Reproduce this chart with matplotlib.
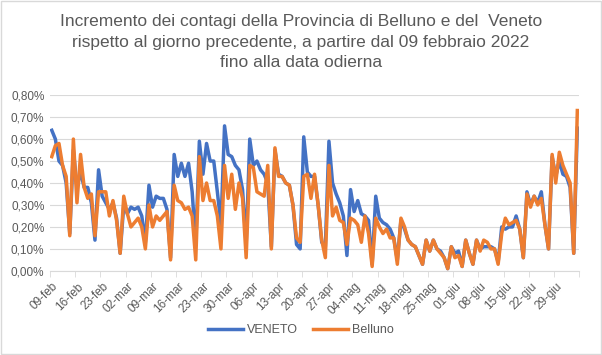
import matplotlib.pyplot as plt
import matplotlib.ticker as mticker
from matplotlib.patches import Rectangle
import numpy as np

plt.rcParams['font.family'] = ['Liberation Sans', 'DejaVu Sans']

# daily increment (%) from 09 feb 2022 to 05 jul 2022
veneto = [
    0.64, 0.60, 0.50, 0.48, 0.40, 0.17, 0.55, 0.38, 0.45, 0.38,
    0.38, 0.31, 0.14, 0.46, 0.34, 0.31, 0.28, 0.31, 0.24, 0.08,
    0.30, 0.26, 0.29, 0.28, 0.29, 0.25, 0.13, 0.39, 0.29, 0.34,
    0.33, 0.33, 0.28, 0.06, 0.53, 0.43, 0.49, 0.43, 0.49, 0.36,
    0.12, 0.59, 0.44, 0.58, 0.50, 0.50, 0.36, 0.21, 0.66, 0.53,
    0.52, 0.48, 0.46, 0.37, 0.12, 0.60, 0.48, 0.50, 0.46, 0.44,
    0.40, 0.11, 0.55, 0.44, 0.43, 0.40, 0.39, 0.30, 0.12, 0.10,
    0.61, 0.45, 0.43, 0.43, 0.30, 0.13, 0.11, 0.59, 0.40, 0.35,
    0.31, 0.25, 0.07, 0.37, 0.27, 0.32, 0.26, 0.25, 0.23, 0.03,
    0.34, 0.24, 0.22, 0.21, 0.19, 0.15, 0.05, 0.23, 0.19, 0.14,
    0.12, 0.11, 0.07, 0.03, 0.14, 0.09, 0.14, 0.10, 0.09, 0.06,
    0.01, 0.11, 0.08, 0.09, 0.02, 0.14, 0.08, 0.03, 0.14, 0.10,
    0.11, 0.11, 0.11, 0.10, 0.04, 0.20, 0.19, 0.20, 0.20, 0.25,
    0.19, 0.06, 0.36, 0.30, 0.34, 0.31, 0.36, 0.21, 0.10, 0.52,
    0.43, 0.50, 0.44, 0.43, 0.38, 0.08, 0.65]

belluno = [
    0.52, 0.57, 0.58, 0.48, 0.43, 0.16, 0.60, 0.31, 0.53, 0.38,
    0.33, 0.35, 0.16, 0.36, 0.36, 0.36, 0.25, 0.32, 0.23, 0.08,
    0.34, 0.26, 0.20, 0.22, 0.24, 0.20, 0.10, 0.30, 0.20, 0.25,
    0.23, 0.25, 0.27, 0.05, 0.39, 0.32, 0.31, 0.28, 0.29, 0.25,
    0.05, 0.52, 0.32, 0.40, 0.32, 0.32, 0.25, 0.10, 0.48, 0.33,
    0.44, 0.28, 0.40, 0.33, 0.06, 0.48, 0.47, 0.36, 0.35, 0.34,
    0.48, 0.10, 0.56, 0.43, 0.43, 0.40, 0.39, 0.30, 0.15, 0.13,
    0.43, 0.44, 0.33, 0.44, 0.30, 0.14, 0.06, 0.48, 0.25, 0.29,
    0.23, 0.22, 0.12, 0.24, 0.23, 0.21, 0.13, 0.25, 0.17, 0.02,
    0.24, 0.20, 0.17, 0.19, 0.15, 0.15, 0.03, 0.24, 0.20, 0.14,
    0.12, 0.11, 0.07, 0.03, 0.14, 0.09, 0.14, 0.10, 0.08, 0.06,
    0.01, 0.11, 0.06, 0.07, 0.02, 0.14, 0.08, 0.03, 0.14, 0.09,
    0.14, 0.13, 0.10, 0.10, 0.03, 0.17, 0.24, 0.21, 0.22, 0.23,
    0.19, 0.06, 0.35, 0.29, 0.34, 0.30, 0.33, 0.21, 0.10, 0.53,
    0.40, 0.54, 0.48, 0.44, 0.40, 0.08, 0.73]

tick_labels = ['09-feb', '16-feb', '23-feb', '02-mar', '09-mar', '16-mar', '23-mar',
               '30-mar', '06-apr', '13-apr', '20-apr', '27-apr', '04-mag', '11-mag',
               '18-mag', '25-mag', '01-giu', '08-giu', '15-giu', '22-giu', '29-giu']

title = ('Incremento dei contagi della Provincia di Belluno e del  Veneto\n'
         'rispetto al giorno precedente, a partire dal 09 febbraio 2022\n'
         'fino alla data odierna')

fig = plt.figure(figsize=(6.02, 3.55), dpi=100)
ax = fig.add_axes([0.083, 0.237, 0.879, 0.495])

x = np.arange(len(veneto))
ax.plot(x, np.array(veneto) / 100, color='#4472C4', lw=2.5, label='VENETO',
        solid_joinstyle='round')
ax.plot(x, np.array(belluno) / 100, color='#ED7D31', lw=2.5, label='Belluno',
        solid_joinstyle='round')

ax.set_xlim(-0.5, len(veneto) - 0.5)
ax.set_ylim(0, 0.008)
ax.yaxis.set_major_locator(mticker.MultipleLocator(0.001))
ax.yaxis.set_major_formatter(mticker.FuncFormatter(
    lambda v, p: ('%.2f%%' % (v * 100)).replace('.', ',')))
ax.grid(axis='y', color='#D9D9D9', lw=0.8)
ax.set_axisbelow(True)

ax.set_xticks(np.arange(0, len(veneto), 7))
ax.set_xticklabels(tick_labels, rotation=45, ha='right', rotation_mode='anchor')
ax.set_xticks(np.arange(-0.5, len(veneto), 7), minor=True)
ax.tick_params(axis='x', which='major', length=0, pad=7, labelsize=8.5, labelcolor='#595959')
ax.tick_params(axis='x', which='minor', length=4, color='#D9D9D9')
ax.tick_params(axis='y', length=0, labelsize=8.5, labelcolor='#595959', pad=4)

for s in ['top', 'right', 'left']:
    ax.spines[s].set_visible(False)
ax.spines['bottom'].set_color('#D9D9D9')

fig.text(0.5, 0.96, title, ha='center', va='top', fontsize=12.5, color='#595959',
         linespacing=1.45)

fig.legend(loc='center', bbox_to_anchor=(0.5, 0.07), ncol=2, frameon=False,
           fontsize=9, handlelength=2.8, columnspacing=1.2, handletextpad=0.3,
           labelcolor='#595959')

fig.patches.append(Rectangle((0.002, 0.003), 0.996, 0.994, transform=fig.transFigure,
                             fill=False, edgecolor='#D9D9D9', lw=1))

fig.savefig('out.png', dpi=100)
